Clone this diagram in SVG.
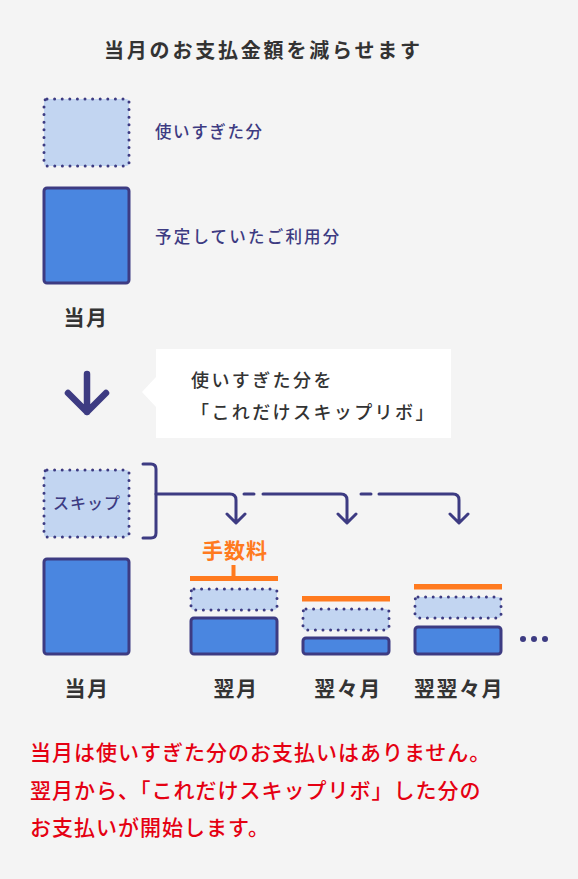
<svg xmlns="http://www.w3.org/2000/svg" width="578" height="879" viewBox="0 0 578 879">
<style>
text{font-family:"Noto Sans CJK JP","Noto Sans",sans-serif}
.dot{fill:#c2d5f1;stroke:#3d3b82;stroke-width:3;stroke-dasharray:0 7.6;stroke-linecap:round}
.solid{fill:#4a86e0;stroke:#3d3b82;stroke-width:3}
.orange{fill:#ff7a1f}
.line{fill:none;stroke:#3d3b82;stroke-width:3;stroke-linecap:round;stroke-linejoin:round}
.dark{fill:#333333}
.navy{fill:#3d3b82}
.lbl{font-size:21px;font-weight:700;fill:#333;letter-spacing:1.5px;text-anchor:middle}
.red{font-size:21px;font-weight:500;fill:#e50012;letter-spacing:1px}
</style>
<rect width="578" height="879" fill="#f4f4f4"/>
<text x="104" y="58" class="dark" font-size="20" font-weight="700" letter-spacing="2.8">当月のお支払金額を減らせます</text>

<g id="legend-over">
<rect x="44" y="99" width="85" height="67" rx="3" class="dot"/>
<text x="155" y="138" class="navy" font-size="16.5" font-weight="500" letter-spacing="1.6">使いすぎた分</text>
</g>
<g id="legend-planned">
<rect x="44" y="188" width="85" height="95" rx="3" class="solid"/>
<text x="155" y="243" class="navy" font-size="16.5" font-weight="500" letter-spacing="2.2">予定していたご利用分</text>
</g>
<text x="86" y="325" class="lbl">当月</text>

<g id="down-arrow">
<path d="M87,374 V412 M68,393 L87,412 L106,393" fill="none" stroke="#3d3b82" stroke-width="6.5" stroke-linecap="round" stroke-linejoin="round"/>
</g>
<g id="callout">
<path d="M156,349 H451 V438 H156 V407 L142,392 L156,377 Z" fill="#ffffff"/>
<text x="191" y="387" class="dark" font-size="18" font-weight="500" letter-spacing="2.4">使いすぎた分を</text>
<text x="191" y="419" class="dark" font-size="18" font-weight="500" letter-spacing="2.4">「これだけスキップリボ」</text>
</g>

<g id="skip">
<rect x="44" y="470" width="85" height="67" rx="3" class="dot"/>
<text x="87" y="509" class="navy" font-size="16" font-weight="500" letter-spacing="1" text-anchor="middle">スキップ</text>
</g>
<g id="current-month">
<rect x="44" y="559" width="85" height="95" rx="3" class="solid"/>
<text x="87" y="696" class="lbl">当月</text>
</g>

<g id="connectors">
<path class="line" d="M143,464 H151 Q156,464 156,469 V533 Q156,538 151,538 H143"/>
<path class="line" d="M156,494 H230 Q236,494 236,500 V522 M227,514 L236,523 L245,514"/>
<path class="line" d="M244,494 H254"/>
<path class="line" d="M263,494 H341 Q347,494 347,500 V522 M338,514 L347,523 L356,514"/>
<path class="line" d="M361,494 H371"/>
<path class="line" d="M379,494 H453 Q459,494 459,500 V522 M450,514 L459,523 L468,514"/>
</g>

<g id="fee">
<text x="235" y="558" font-size="21" font-weight="700" fill="#ff7a1f" letter-spacing="1" text-anchor="middle">手数料</text>
<rect x="231.5" y="565" width="4" height="12" class="orange"/>
</g>

<g id="next-month">
<rect x="190" y="576" width="88" height="5" class="orange"/>
<rect x="191" y="589" width="86" height="21" rx="3" class="dot"/>
<rect x="191" y="618" width="86" height="36" rx="3" class="solid"/>
<text x="236" y="696" class="lbl">翌月</text>
</g>
<g id="month-after-next">
<rect x="302" y="596" width="88" height="5.5" class="orange"/>
<rect x="303" y="609" width="86" height="21" rx="3" class="dot"/>
<rect x="303" y="638" width="86" height="16" rx="3" class="solid"/>
<text x="348" y="696" class="lbl">翌々月</text>
</g>
<g id="month-3">
<rect x="414" y="584" width="88" height="5.5" class="orange"/>
<rect x="415" y="597" width="86" height="21" rx="3" class="dot"/>
<rect x="415" y="627" width="86" height="27" rx="3" class="solid"/>
<text x="459" y="696" class="lbl">翌翌々月</text>
</g>
<g id="ellipsis" class="navy">
<circle cx="523" cy="639" r="3"/>
<circle cx="534" cy="639" r="3"/>
<circle cx="545" cy="639" r="3"/>
</g>

<g id="note">
<text x="30" y="760" class="red">当月は使いすぎた分のお支払いはありません。</text>
<text x="30" y="798" class="red">翌月から、「これだけスキップリボ」した分の</text>
<text x="30" y="835" class="red">お支払いが開始します。</text>
</g>
</svg>
